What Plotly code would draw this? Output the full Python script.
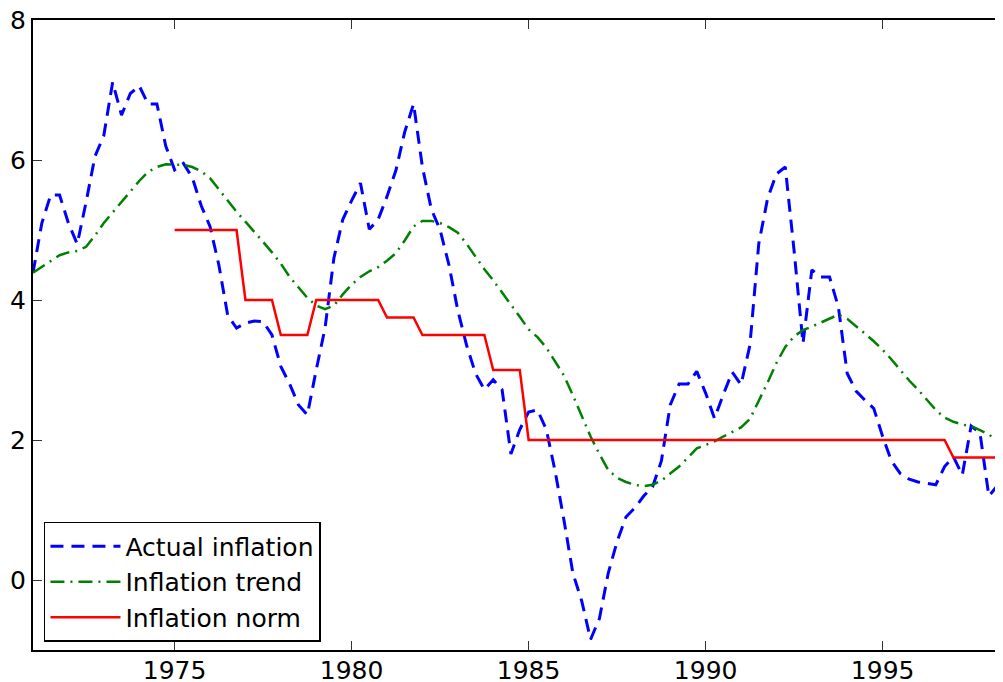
import plotly.graph_objects as go

# Quarterly dates 1971Q1 .. 1998Q3
start_year = 1971.0
actual = [4.39, 5.10, 5.50, 5.50, 5.10, 4.80, 5.40, 6.05,
          6.35, 7.11, 6.64, 6.95, 7.06, 6.80, 6.80, 6.20,
          5.86, 5.95, 5.75, 5.35, 5.05, 4.50, 3.78, 3.60,
          3.67, 3.70, 3.69, 3.50, 3.05, 2.80, 2.50, 2.36,
          3.00, 3.60, 4.60, 5.15, 5.42, 5.67, 5.01, 5.15,
          5.48, 5.85, 6.40, 6.80, 5.90, 5.30, 5.00, 4.50,
          3.85, 3.35, 2.95, 2.72, 2.86, 2.72, 1.80, 2.15,
          2.40, 2.43, 2.15, 1.55, 0.85, 0.10, -0.30, -0.85,
          -0.55, 0.10, 0.55, 0.90, 1.03, 1.20, 1.33, 1.70,
          2.50, 2.80, 2.80, 2.98, 2.67, 2.31, 2.65, 2.97,
          2.79, 3.35, 4.80, 5.45, 5.80, 5.90, 4.70, 3.38,
          4.43, 4.33, 4.33, 3.90, 2.95, 2.70, 2.57, 2.45,
          2.05, 1.70, 1.52, 1.44, 1.40, 1.38, 1.36, 1.62,
          1.76, 1.50, 2.20, 2.10, 1.20, 1.35, 0.60]

trend = [4.39, 4.47, 4.56, 4.64, 4.68, 4.70, 4.76, 4.92,
         5.10, 5.25, 5.40, 5.55, 5.70, 5.83, 5.90, 5.94,
         5.94, 5.93, 5.90, 5.84, 5.74, 5.58, 5.42, 5.26,
         5.12, 4.98, 4.83, 4.68, 4.52, 4.33, 4.18, 4.03,
         3.92, 3.87, 3.92, 4.08, 4.22, 4.33, 4.41, 4.47,
         4.56, 4.67, 4.85, 5.05, 5.13, 5.13, 5.10, 5.04,
         4.96, 4.80, 4.62, 4.44, 4.28, 4.11, 3.93, 3.76,
         3.58, 3.47, 3.32, 3.12, 2.92, 2.64, 2.35, 2.05,
         1.80, 1.57, 1.46, 1.40, 1.36, 1.34, 1.36, 1.42,
         1.52, 1.62, 1.75, 1.88, 1.93, 1.98, 2.05, 2.12,
         2.18, 2.30, 2.55, 2.82, 3.10, 3.33, 3.48, 3.57,
         3.62, 3.68, 3.74, 3.79, 3.73, 3.63, 3.52, 3.41,
         3.29, 3.15, 3.00, 2.85, 2.72, 2.57, 2.43, 2.32,
         2.26, 2.22, 2.20, 2.14, 2.08, 1.98, 1.88]

# Inflation norm, quarterly from 1975Q1
norm_start = 1975.0
norm = [5.0, 5.0, 5.0, 5.0, 5.0, 5.0, 5.0, 5.0,
        4.0, 4.0, 4.0, 4.0,
        3.5, 3.5, 3.5, 3.5,
        4.0, 4.0, 4.0, 4.0, 4.0, 4.0, 4.0, 4.0,
        3.75, 3.75, 3.75, 3.75,
        3.5, 3.5, 3.5, 3.5, 3.5, 3.5, 3.5, 3.5,
        3.0, 3.0, 3.0, 3.0,
        2.0, 2.0, 2.0, 2.0, 2.0, 2.0, 2.0, 2.0,
        2.0, 2.0, 2.0, 2.0, 2.0, 2.0, 2.0, 2.0,
        2.0, 2.0, 2.0, 2.0, 2.0, 2.0, 2.0, 2.0,
        2.0, 2.0, 2.0, 2.0, 2.0, 2.0, 2.0, 2.0,
        2.0, 2.0, 2.0, 2.0, 2.0, 2.0, 2.0, 2.0,
        2.0, 2.0, 2.0, 2.0, 2.0, 2.0, 2.0, 2.0,
        1.75, 1.75, 1.75, 1.75, 1.75, 1.75, 1.75]

x_ticks = [1975, 1980, 1985, 1990, 1995]
y_ticks = [0, 2, 4, 6, 8]

dates = [start_year + 0.25 * i for i in range(len(actual))]
norm_dates = [norm_start + 0.25 * i for i in range(len(norm))]

FONT = "DejaVu Sans, Liberation Sans, sans-serif"

fig = go.Figure()
fig.add_trace(go.Scatter(x=dates, y=actual, mode="lines", name="Actual inflation",
                         line=dict(color="#0000ff", width=3, dash="13px,8px")))
fig.add_trace(go.Scatter(x=dates, y=trend, mode="lines", name="Inflation trend",
                         line=dict(color="#008000", width=2.5, dash="14px,6px,2px,6px")))
fig.add_trace(go.Scatter(x=norm_dates, y=norm, mode="lines", name="Inflation norm",
                         line=dict(color="#ff0000", width=2.5)))

# the page body adds an 8px offset; margins compensate so the plot area
# sits at x 33..1003, y 20..650 in the browser window
fig.update_layout(
    width=1003, height=682,
    margin=dict(l=25, r=8, t=12, b=40),
    paper_bgcolor="white", plot_bgcolor="white",
    font=dict(family=FONT, size=25, color="black"),
    showlegend=True,
    legend=dict(x=0.0113, y=0.0127, xanchor="left", yanchor="bottom",
                bgcolor="white", bordercolor="black", borderwidth=1.5,
                font=dict(family=FONT, size=25, color="black"),
                itemwidth=70, tracegroupgap=0),
)
fig.update_xaxes(range=[1971, 1998.4], tickvals=x_ticks, ticktext=[str(v) for v in x_ticks],
                 automargin=False, ticklabelstandoff=-3, ticklabeloverflow="allow",
                 showgrid=False, zeroline=False, showline=True, linecolor="black", linewidth=2,
                 mirror="ticks", ticks="inside", ticklen=9, tickcolor="#333", tickwidth=1.2)
fig.update_yaxes(range=[-1, 8], tickvals=y_ticks, ticktext=[str(v) for v in y_ticks],
                 automargin=False, ticklabelstandoff=0, ticklabeloverflow="allow",
                 showgrid=False, zeroline=False, showline=True, linecolor="black", linewidth=2,
                 mirror=False, ticks="inside", ticklen=9, tickcolor="#333", tickwidth=1.2)

fig.write_html("out.html")
